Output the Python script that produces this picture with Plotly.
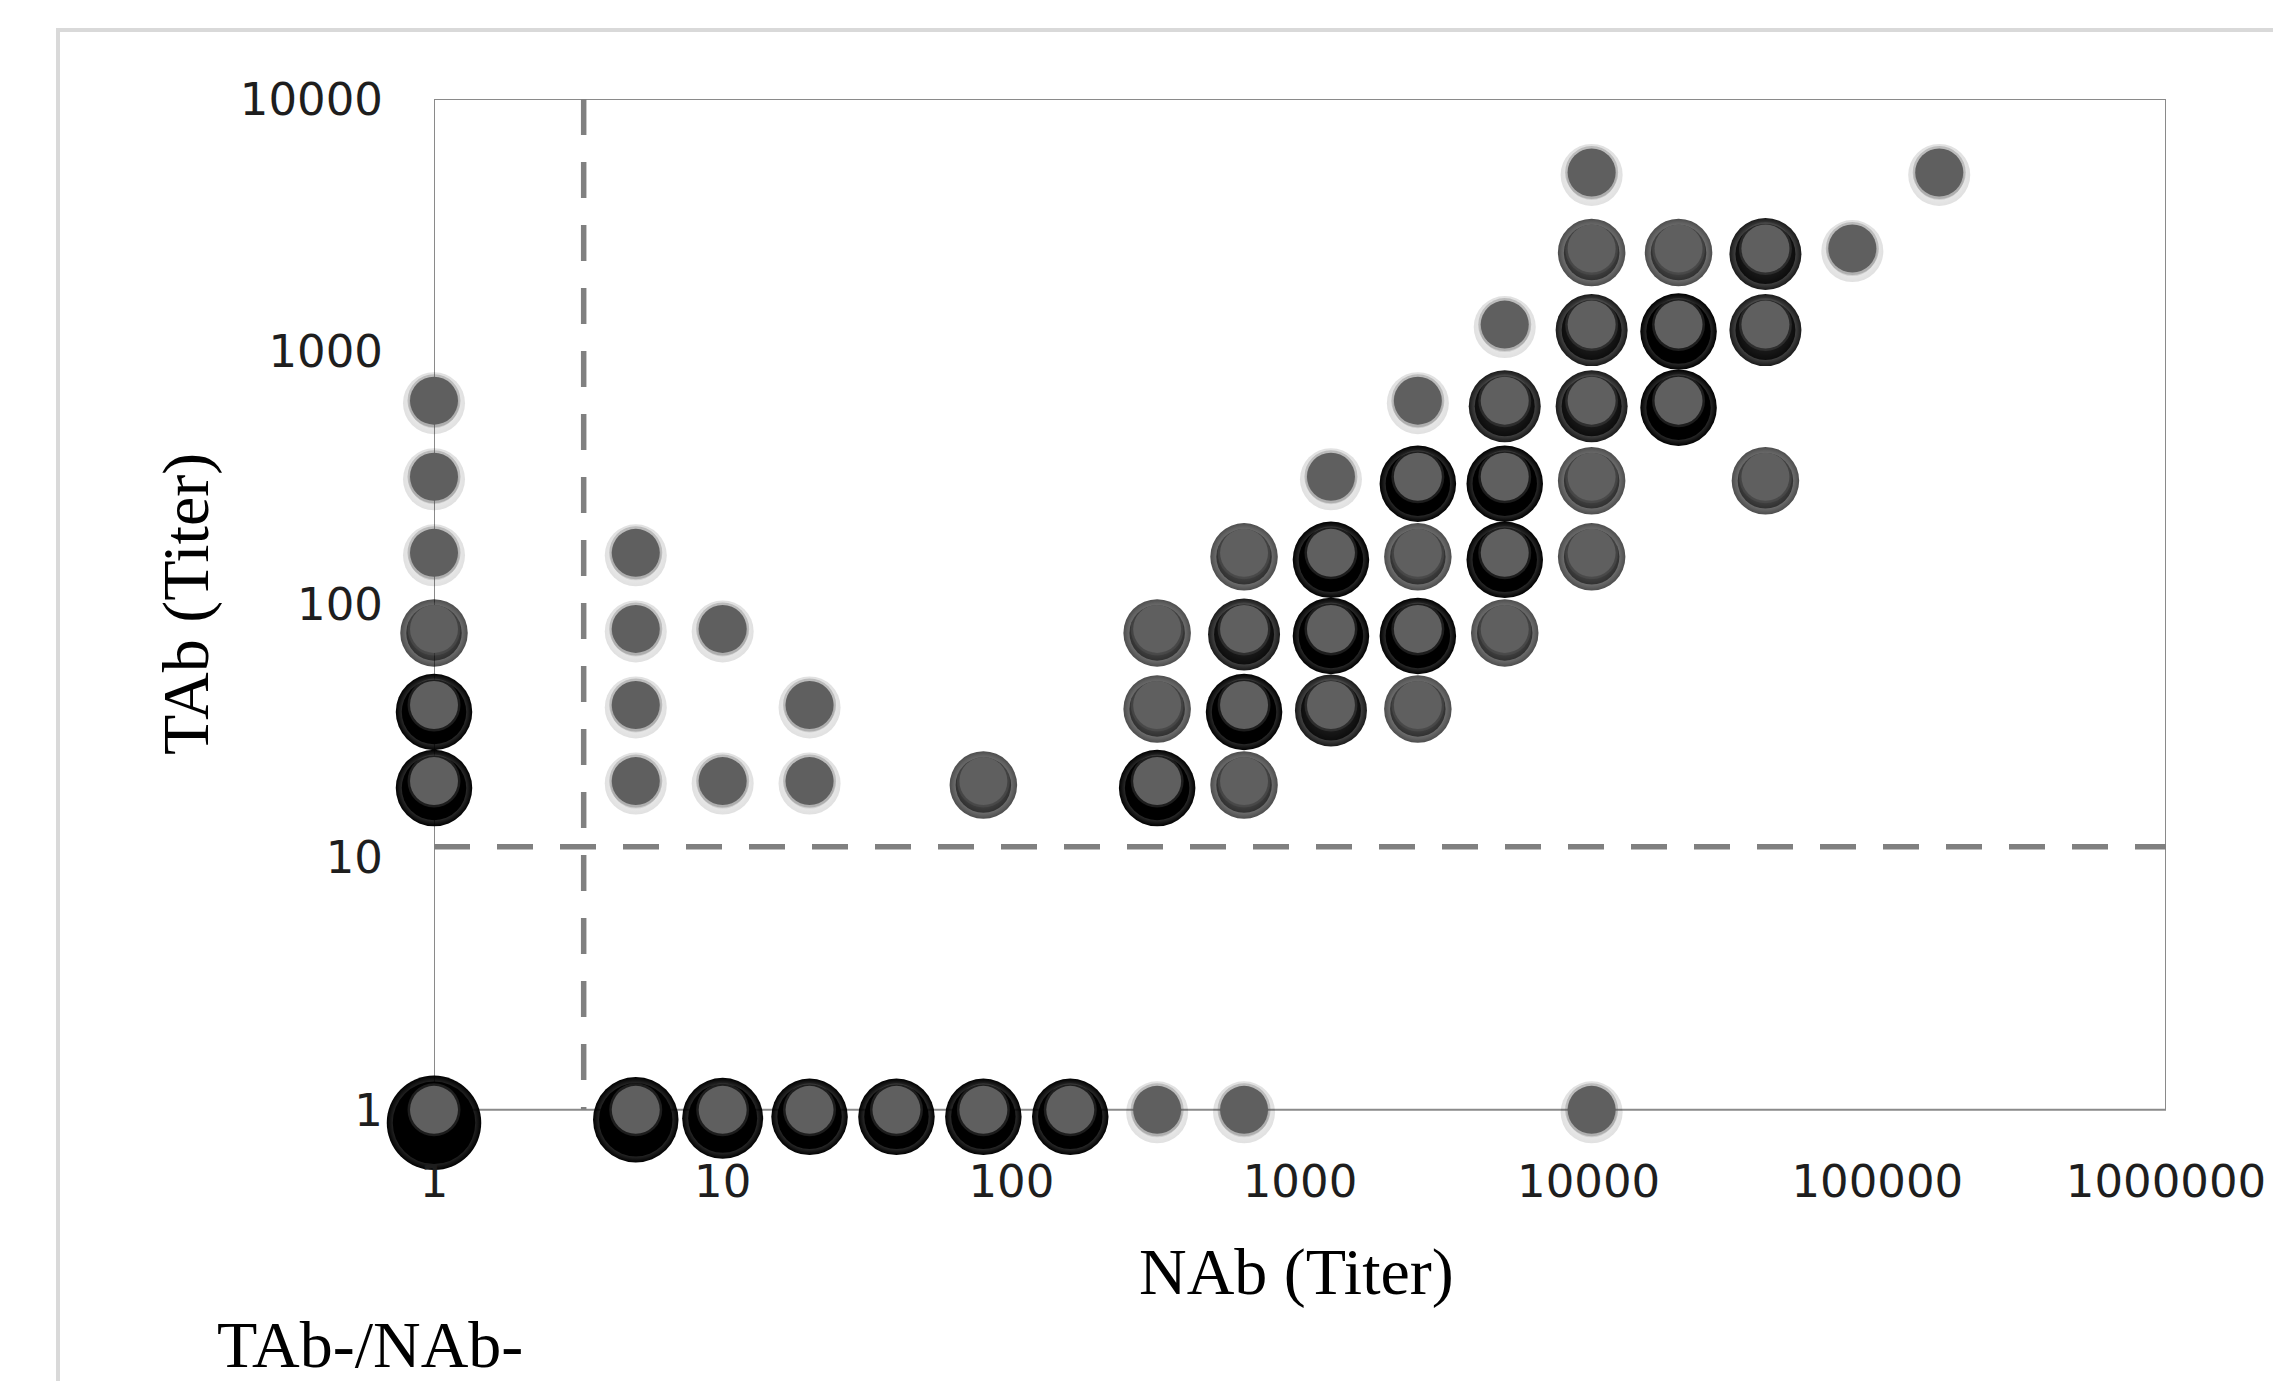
import plotly.graph_objects as go

# ---------------- data ----------------
nab_titer = [1, 1, 1, 1, 1, 1, 1,
             5, 5, 5, 5, 5,
             10, 10, 10,
             20, 20, 20,
             40,
             80, 80,
             160,
             320, 320, 320, 320,
             640, 640, 640, 640, 640,
             1280, 1280, 1280, 1280,
             2560, 2560, 2560, 2560, 2560,
             5120, 5120, 5120, 5120, 5120,
             10240, 10240, 10240, 10240, 10240, 10240, 10240,
             20480, 20480, 20480,
             40960, 40960, 40960,
             81920,
             163840]
tab_titer = [640, 320, 160, 80, 40, 20, 1,
             160, 80, 40, 20, 1,
             80, 20, 1,
             40, 20, 1,
             1,
             20, 1,
             1,
             80, 40, 20, 1,
             160, 80, 40, 20, 1,
             320, 160, 80, 40,
             640, 320, 160, 80, 40,
             1280, 640, 320, 160, 80,
             5120, 2560, 1280, 640, 320, 160, 1,
             2560, 1280, 640,
             2560, 1280, 320,
             2560,
             5120]
# number of overlapping subjects at each point (estimated from shadow darkness)
overlap_count = [1, 1, 1, 2, 4, 4, 8,
                 1, 1, 1, 1, 6,
                 1, 1, 5,
                 1, 1, 4,
                 4,
                 2, 4,
                 4,
                 2, 2, 4, 1,
                 2, 3, 4, 2, 1,
                 1, 4, 4, 3,
                 1, 4, 2, 4, 2,
                 1, 3, 4, 4, 2,
                 1, 2, 3, 3, 2, 2, 1,
                 2, 4, 4,
                 3, 3, 2,
                 1,
                 1]

nab_cutoff = 3.3
tab_cutoff = 11

x_tick_vals = [1, 10, 100, 1000, 10000, 100000, 1000000]
x_tick_text = ["1", "10", "100", "1000", "10000", "100000", "1000000"]
y_tick_vals = [1, 10, 100, 1000, 10000]
y_tick_text = ["1", "10", "100", "1000", "10000"]

# ---------------- geometry / styling ----------------
BODY = 8                       # default page margin of the browser
W, H = 2281 - BODY, 1381 - BODY
FRAME_L, FRAME_R = 434, 2166   # frame edges in reference pixels
FRAME_T, FRAME_B = 99, 1110
PX_DEC_Y = (FRAME_B - FRAME_T) / 4.0
Y_LOW = -0.06                  # a little room under y=1 so shadows there stay visible
PLOT_H = PX_DEC_Y * (4 - Y_LOW)
PLOT_B = FRAME_T + PLOT_H      # bottom of plotting area (reference pixels)

ML = FRAME_L - BODY
MT = FRAME_T - BODY
MR = W - ML - (FRAME_R - FRAME_L)
MB = H - MT - PLOT_H


def px_x(p):
    return (p - FRAME_L) / (FRAME_R - FRAME_L)


def px_y(p):
    return (PLOT_B - p) / PLOT_H


BASE = 48
dot_color = "#5f5f5f"


def shadow_shift(n):
    d = 2.5 + 1.5 * (n - 1)
    return 10 ** (-d / PX_DEC_Y)


shadow_y = [y * shadow_shift(n) for y, n in zip(tab_titer, overlap_count)]
core_size = [BASE + 2 if n == 1 else BASE + 3 + 4.5 * (n - 1) for n in overlap_count]
halo_size = [s + 12 for s in core_size]
core_op = [0.10 if n == 1 else min(1.0, 0.3 + 0.25 * (n - 1)) for n in overlap_count]
halo_op = [0.12 if n == 1 else min(1.0, 0.5 + 0.2 * (n - 1)) for n in overlap_count]

fig = go.Figure()

# plot frame (axis lines at x=1 and y=1 plus top/right border)
fig.add_trace(go.Scatter(
    x=[1, 1000000, 1000000, 1, 1], y=[1, 1, 10000, 10000, 1], mode="lines",
    line=dict(color="#8a8a8a", width=2), hoverinfo="skip", showlegend=False,
    cliponaxis=False))

# cut-off lines
fig.add_trace(go.Scatter(
    x=[nab_cutoff, nab_cutoff], y=[10000, 1], mode="lines",
    line=dict(color="#808080", width=5.5, dash="36px,27px"),
    hoverinfo="skip", showlegend=False, cliponaxis=False))
fig.add_trace(go.Scatter(
    x=[1, 1000000], y=[tab_cutoff, tab_cutoff], mode="lines",
    line=dict(color="#808080", width=5.5, dash="36px,27px"),
    hoverinfo="skip", showlegend=False, cliponaxis=False))

# soft shadow halo
fig.add_trace(go.Scatter(
    x=nab_titer, y=shadow_y, mode="markers",
    marker=dict(size=halo_size, color="rgba(0,0,0,1)", opacity=halo_op,
                gradient=dict(type="radial", color="rgba(0,0,0,0)"),
                line=dict(width=0)),
    hoverinfo="skip", showlegend=False, cliponaxis=False))
# shadow core
fig.add_trace(go.Scatter(
    x=nab_titer, y=shadow_y, mode="markers",
    marker=dict(size=core_size, color="#000000", opacity=core_op,
                line=dict(width=0)),
    hoverinfo="skip", showlegend=False, cliponaxis=False))
# soft edge of the grey dots
fig.add_trace(go.Scatter(
    x=nab_titer, y=tab_titer, mode="markers",
    marker=dict(size=BASE + 5, color="rgba(95,95,95,0.3)", line=dict(width=0)),
    hoverinfo="skip", showlegend=False, cliponaxis=False))
# grey dots
fig.add_trace(go.Scatter(
    x=nab_titer, y=tab_titer, mode="markers",
    marker=dict(size=BASE, color=dot_color, line=dict(width=0)),
    showlegend=False, cliponaxis=False,
    hovertemplate="NAb %{x}<br>TAb %{y}<extra></extra>"))

tick_font = dict(family="DejaVu Sans", size=45, color="#1e1e1e")
title_font = dict(family="Liberation Serif", size=66, color="#000000")

fig.update_xaxes(
    type="log", range=[0, 6], tickvals=x_tick_vals, ticktext=x_tick_text,
    showgrid=False, zeroline=False, showline=False, ticks="",
    tickfont=tick_font, ticklabelstandoff=26)
fig.update_yaxes(
    type="log", range=[Y_LOW, 4], tickvals=y_tick_vals, ticktext=y_tick_text,
    showgrid=False, zeroline=False, showline=False, ticks="",
    tickfont=tick_font, ticklabelstandoff=50)

fig.update_layout(
    width=W, height=H,
    margin=dict(l=ML, r=MR, t=MT, b=MB, pad=0),
    paper_bgcolor="white", plot_bgcolor="white",
    showlegend=False,
    annotations=[
        dict(text="NAb (Titer)", xref="paper", yref="paper", x=px_x(1296), y=px_y(1272),
             xanchor="center", yanchor="middle", showarrow=False, font=title_font),
        dict(text="TAb (Titer)", xref="paper", yref="paper", x=px_x(186), y=px_y(604),
             xanchor="center", yanchor="middle", textangle=-90, showarrow=False,
             font=title_font),
        dict(text="TAb-/NAb-", xref="paper", yref="paper", x=px_x(215), y=px_y(1345),
             xanchor="left", yanchor="middle", showarrow=False, font=title_font),
    ],
    shapes=[
        dict(type="path", xref="paper", yref="paper",
             path="M %.4f %.4f L %.4f %.4f L %.4f %.4f" % (
                 px_x(58), px_y(1420), px_x(58), px_y(30), px_x(2320), px_y(30)),
             line=dict(color="#d9d9d9", width=4)),
    ],
)

fig.write_html("out.html")
